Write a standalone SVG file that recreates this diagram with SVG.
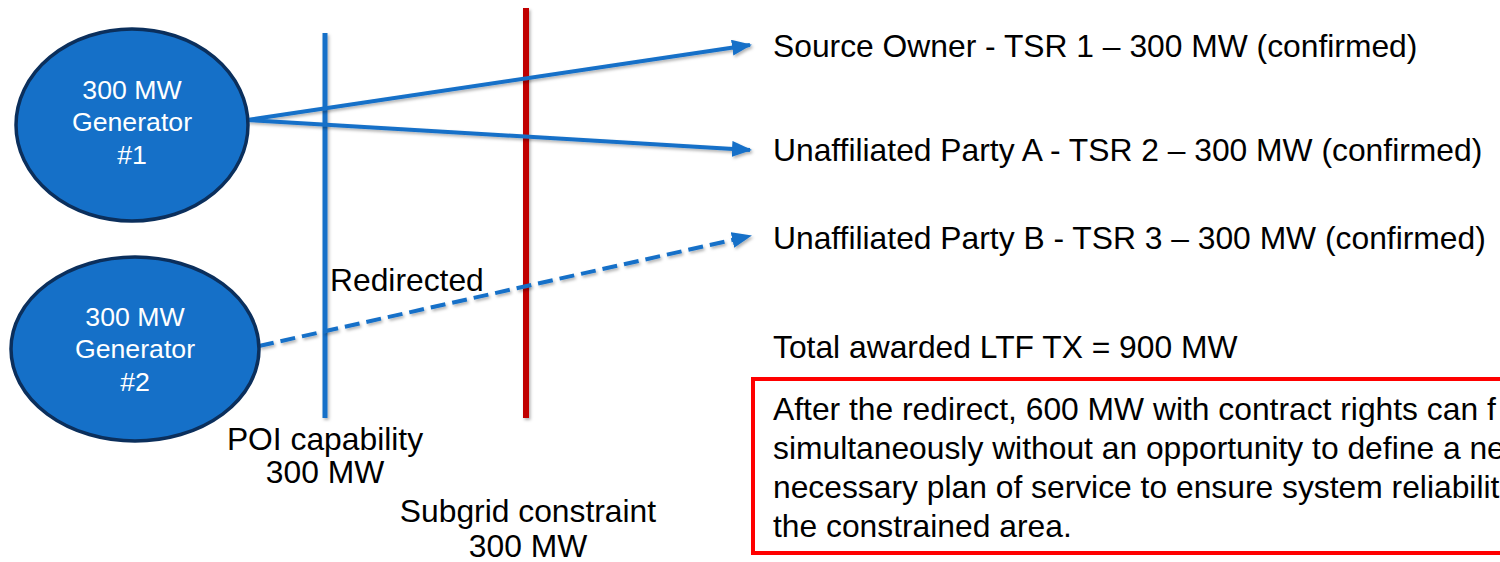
<svg xmlns="http://www.w3.org/2000/svg" width="1500" height="562" viewBox="0 0 1500 562">
<style>
text{font-family:"Liberation Sans",Arial,sans-serif;fill:#000}
.gen{fill:#1570c8;stroke:#0b2f5c;stroke-width:3.5}
.gt{fill:#fff;font-size:26.7px;text-anchor:middle}
.lbl{font-size:31.8px}
.mid{text-anchor:middle}
.conn{stroke:#1570c8;stroke-width:4;fill:none}
</style>
<defs>
<marker id="ah" markerWidth="20" markerHeight="16" refX="18" refY="8" orient="auto" markerUnits="userSpaceOnUse">
<path d="M0,0 L20,8 L0,16 Z" fill="#1570c8"/>
</marker>
<filter id="sh" filterUnits="userSpaceOnUse" x="0" y="0" width="1500" height="562">
<feDropShadow dx="1.5" dy="2" stdDeviation="1.5" flood-color="#000" flood-opacity="0.3"/>
</filter>
</defs>
<g id="poi-line" filter="url(#sh)">
<line x1="325" y1="33" x2="325" y2="418" stroke="#1570c8" stroke-width="5"/>
</g>
<g id="subgrid-line" filter="url(#sh)">
<line x1="526" y1="8" x2="526" y2="418" stroke="#c00000" stroke-width="6"/>
</g>
<g id="connectors" filter="url(#sh)">
<line class="conn" x1="247" y1="120" x2="750" y2="45" marker-end="url(#ah)"/>
<line class="conn" x1="247" y1="120" x2="750" y2="150" marker-end="url(#ah)"/>
<line class="conn" x1="259" y1="346" x2="750" y2="236" stroke-dasharray="15,7" marker-end="url(#ah)"/>
</g>
<g id="gen1">
<ellipse class="gen" cx="132" cy="125" rx="116" ry="96"/>
<text class="gt" x="132" y="99">300 MW</text>
<text class="gt" x="132" y="131">Generator</text>
<text class="gt" x="132" y="164">#1</text>
</g>
<g id="gen2">
<ellipse class="gen" cx="135" cy="349" rx="124" ry="92"/>
<text class="gt" x="135" y="326">300 MW</text>
<text class="gt" x="135" y="358">Generator</text>
<text class="gt" x="135" y="391">#2</text>
</g>
<g id="tsr1"><text class="lbl" x="773" y="57">Source Owner - TSR 1 – 300 MW (confirmed)</text></g>
<g id="tsr2"><text class="lbl" x="773" y="161">Unaffiliated Party A - TSR 2 – 300 MW (confirmed)</text></g>
<g id="tsr3"><text class="lbl" x="773" y="249">Unaffiliated Party B - TSR 3 – 300 MW (confirmed)</text></g>
<g id="redirected"><text class="lbl" x="330" y="291">Redirected</text></g>
<g id="total"><text class="lbl" x="773" y="358">Total awarded LTF TX = 900 MW</text></g>
<g id="poi-label">
<text class="lbl mid" x="325" y="450">POI capability</text>
<text class="lbl mid" x="325" y="483">300 MW</text>
</g>
<g id="subgrid-label">
<text class="lbl mid" x="528" y="522">Subgrid constraint</text>
<text class="lbl mid" x="528" y="557">300 MW</text>
</g>
<g id="note">
<rect x="753" y="379" width="760" height="174" fill="#fff" stroke="#ff0000" stroke-width="4"/>
<text class="lbl" x="773" y="420">After the redirect, 600 MW with contract rights can f</text>
<text class="lbl" x="773" y="459">simultaneously without an opportunity to define a ne</text>
<text class="lbl" x="773" y="498">necessary plan of service to ensure system reliabilit</text>
<text class="lbl" x="773" y="537">the constrained area.</text>
</g>
</svg>
